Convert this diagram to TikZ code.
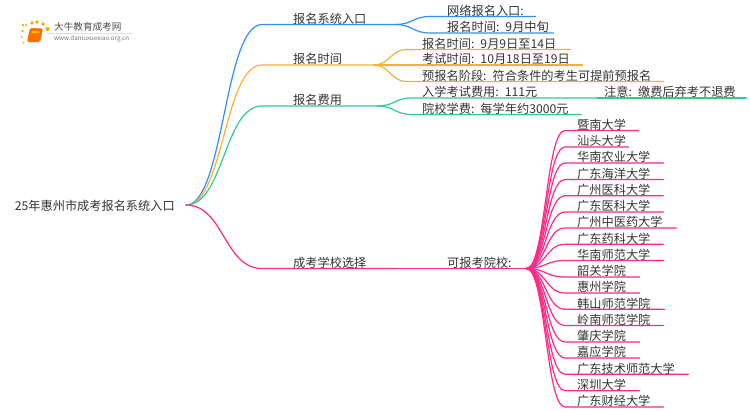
\documentclass[tikz,border=0pt]{standalone}
\usepackage{fontspec}
\setmainfont{Noto Sans CJK SC}
\usepackage{xcolor}
\usetikzlibrary{calc}
\definecolor{bluebr}{HTML}{2F8FFF}
\definecolor{orangebr}{HTML}{FBB02D}
\definecolor{greenbr}{HTML}{2DCC8F}
\definecolor{pinkbr}{HTML}{FF2A85}
\definecolor{txtgray}{HTML}{333333}
\tikzset{
  lab/.style 2 args={anchor=south west,inner xsep=0pt,inner ysep=0pt,text width=#1,align=left,
    text=txtgray,font=\fontsize{12.2}{13}\selectfont,execute at begin node=\hspace*{#2pt}},
  branch/.style={line width=1.2pt,line cap=round},
  curve/.style={to path={.. controls ($(\tikztostart)!.5!(\tikztostart-|\tikztotarget)$) and ($(\tikztotarget)!.5!(\tikztotarget-|\tikztostart)$) .. (\tikztotarget)}},
  dot/.style={fill=orange!70!yellow,draw=none}
}
\begin{document}
\begin{tikzpicture}[x=1pt,y=-1pt]
  \useasboundingbox (0,0) rectangle (750,410);
  % logo
  \fill[black!12] (47,33) rectangle (133,33.6);
  \fill[dot] (23,25) circle (1.3);
  \fill[dot] (32,23) circle (1.8);
  \fill[dot] (37,22) circle (1.8);
  \fill[dot] (43,24) circle (1.8);
  \fill[dot] (47.5,29) circle (2.1);
  \fill[dot] (26,25) circle (1.2);
  \fill[dot] (22.5,31) circle (1.2);
  \fill[dot] (22,37) circle (1);
  \fill[dot] (23.5,42.5) circle (1);
  \fill[orange!85!red,rounded corners=1.5pt] (30,28) -- (43,28.5) -- (40,42) -- (27,42) -- cycle;
  \fill[orange!45!yellow] (32,31) -- (40,31.3) -- (39.5,33) -- (31.5,33) -- cycle;
  \node[text=black!70,font=\fontsize{9.6}{11}\selectfont,inner sep=0pt,anchor=west] (logoname) at (54,27) {大牛教育成考网};
  \node[text=black!55,font=\fontsize{6.2}{7}\selectfont,inner sep=0pt,anchor=west] (logourl) at (54,38.5) {www.daniuxuexiao.org.cn};
  % root
  \node[text=txtgray,font=\fontsize{12.2}{13}\selectfont,anchor=east,inner xsep=11pt] (root) at (186,206) {25年惠州市成考报名系统入口};
  \coordinate (hub) at (186,205);
  % first level
  \node[lab={133}{31}] (entry) at (262,24.5) {报名系统入口};
  \node[lab={111}{31}] (time) at (262,65) {报名时间};
  \node[lab={115}{31}] (fee) at (262,106) {报名费用};
  \node[lab={133}{31}] (school) at (262,268.5) {成考学校选择};
  % second level
  \node[lab={105}{17}] (entry1) at (430,16.5) {网络报名入口:};
  \node[lab={123}{17}] (entry2) at (430,33) {报名时间: 9月中旬};
  \node[lab={163}{15}] (time1) at (407,49.5) {报名时间: 9月9日至14日};
  \node[lab={175}{15}] (time2) at (407,65) {考试时间: 10月18日至19日};
  \node[lab={256}{15}] (time3) at (407,81.5) {预报名阶段: 符合条件的考生可提前预报名};
  \node[lab={185}{10}] (fee1) at (412,98) {入学考试费用: 111元};
  \node[lab={149}{7}] (note) at (597,98) {注意: 缴费后弃考不退费};
  \node[lab={169}{10}] (fee2) at (412,114.5) {院校学费: 每学年约3000元};
  \node[lab={131}{52}] (kebao) at (395,268.5) {可报考院校:};
  % schools
  \node[lab={73}{12}] (s1) at (565,130.5) {暨南大学};
  \node[lab={63}{12}] (s2) at (565,147) {汕头大学};
  \node[lab={98}{12}] (s3) at (565,163) {华南农业大学};
  \node[lab={98}{12}] (s4) at (565,179.5) {广东海洋大学};
  \node[lab={98}{12}] (s5) at (565,195.7) {广州医科大学};
  \node[lab={98}{12}] (s6) at (565,212) {广东医科大学};
  \node[lab={111}{12}] (s7) at (565,228) {广州中医药大学};
  \node[lab={98}{12}] (s8) at (565,244.3) {广东药科大学};
  \node[lab={98}{12}] (s9) at (565,260.5) {华南师范大学};
  \node[lab={74}{12}] (s10) at (565,277) {韶关学院};
  \node[lab={74}{12}] (s11) at (565,293) {惠州学院};
  \node[lab={99}{12}] (s12) at (565,309.3) {韩山师范学院};
  \node[lab={98}{12}] (s13) at (565,325.5) {岭南师范学院};
  \node[lab={74}{12}] (s14) at (565,342) {肇庆学院};
  \node[lab={74}{12}] (s15) at (565,358) {嘉应学院};
  \node[lab={123}{12}] (s16) at (565,374.3) {广东技术师范大学};
  \node[lab={74}{12}] (s17) at (565,390.7) {深圳大学};
  \node[lab={98}{12}] (s18) at (565,407) {广东财经大学};
  % root connectors
  \draw[branch,bluebr] (hub) to[curve] (entry.south west) -- (entry.south east);
  \draw[branch,orangebr] (hub) to[curve] (time.south west) -- (time.south east);
  \draw[branch,greenbr] (hub) to[curve] (fee.south west) -- (fee.south east);
  \draw[branch,pinkbr] (hub) to[curve] (school.south west) -- (school.south east);
  % second level connectors
  \draw[branch,bluebr] (entry.south east) to[curve] (entry1.south west) -- (entry1.south east);
  \draw[branch,bluebr] (entry.south east) to[curve] (entry2.south west) -- (entry2.south east);
  \draw[branch,orangebr] (time.south east) to[curve] (time1.south west) -- (time1.south east);
  \draw[branch,orangebr] (time.south east) to[curve] (time2.south west) -- (time2.south east);
  \draw[branch,orangebr] (time.south east) to[curve] (time3.south west) -- (time3.south east);
  \draw[branch,greenbr] (fee.south east) to[curve] (fee1.south west) -- (fee1.south east);
  \draw[branch,greenbr] (fee1.south east) -- (note.south west) -- (note.south east);
  \draw[branch,greenbr] (fee.south east) to[curve] (fee2.south west) -- (fee2.south east);
  \draw[branch,pinkbr] (school.south east) -- (kebao.south west) -- (kebao.south east);
  % school connectors
  \draw[branch,pinkbr] (kebao.south east) to[curve] (s1.south west) -- (s1.south east);
  \draw[branch,pinkbr] (kebao.south east) to[curve] (s2.south west) -- (s2.south east);
  \draw[branch,pinkbr] (kebao.south east) to[curve] (s3.south west) -- (s3.south east);
  \draw[branch,pinkbr] (kebao.south east) to[curve] (s4.south west) -- (s4.south east);
  \draw[branch,pinkbr] (kebao.south east) to[curve] (s5.south west) -- (s5.south east);
  \draw[branch,pinkbr] (kebao.south east) to[curve] (s6.south west) -- (s6.south east);
  \draw[branch,pinkbr] (kebao.south east) to[curve] (s7.south west) -- (s7.south east);
  \draw[branch,pinkbr] (kebao.south east) to[curve] (s8.south west) -- (s8.south east);
  \draw[branch,pinkbr] (kebao.south east) to[curve] (s9.south west) -- (s9.south east);
  \draw[branch,pinkbr] (kebao.south east) to[curve] (s10.south west) -- (s10.south east);
  \draw[branch,pinkbr] (kebao.south east) to[curve] (s11.south west) -- (s11.south east);
  \draw[branch,pinkbr] (kebao.south east) to[curve] (s12.south west) -- (s12.south east);
  \draw[branch,pinkbr] (kebao.south east) to[curve] (s13.south west) -- (s13.south east);
  \draw[branch,pinkbr] (kebao.south east) to[curve] (s14.south west) -- (s14.south east);
  \draw[branch,pinkbr] (kebao.south east) to[curve] (s15.south west) -- (s15.south east);
  \draw[branch,pinkbr] (kebao.south east) to[curve] (s16.south west) -- (s16.south east);
  \draw[branch,pinkbr] (kebao.south east) to[curve] (s17.south west) -- (s17.south east);
  \draw[branch,pinkbr] (kebao.south east) to[curve] (s18.south west) -- (s18.south east);
\end{tikzpicture}
\end{document}
